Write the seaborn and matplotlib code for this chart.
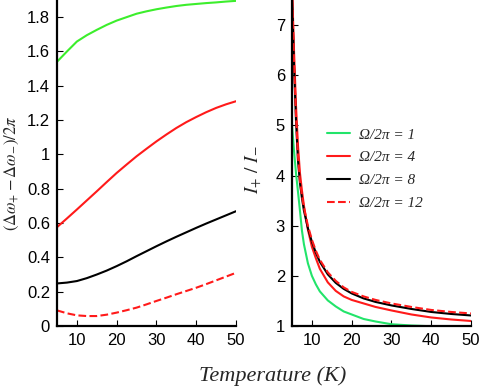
import numpy as np
import pandas as pd
import seaborn as sns
import matplotlib.pyplot as plt
from matplotlib.ticker import FuncFormatter

# left panel: splitting (Δω+ - Δω-)/2π vs temperature
temp_left = [5, 7.5, 10, 12.5, 15, 17.5, 20, 22.5, 25, 27.5, 30, 32.5, 35, 37.5, 40, 42.5, 45, 47.5, 50]
split_1 = [1.54, 1.60, 1.658, 1.695, 1.726, 1.755, 1.78, 1.80, 1.82, 1.834, 1.846, 1.856, 1.865, 1.872, 1.877, 1.882, 1.886, 1.891, 1.895]
split_4 = [0.576, 0.627, 0.679, 0.732, 0.785, 0.839, 0.892, 0.941, 0.989, 1.033, 1.076, 1.116, 1.154, 1.188, 1.218, 1.246, 1.271, 1.292, 1.31]
split_8 = [0.248, 0.253, 0.262, 0.279, 0.30, 0.323, 0.349, 0.377, 0.407, 0.436, 0.465, 0.493, 0.52, 0.546, 0.572, 0.597, 0.621, 0.645, 0.669]
split_12 = [0.091, 0.074, 0.062, 0.058, 0.058, 0.066, 0.078, 0.092, 0.107, 0.126, 0.146, 0.165, 0.185, 0.204, 0.223, 0.244, 0.266, 0.288, 0.31]

# right panel: intensity ratio I+/I- vs temperature
temp_right = [5, 5.5, 6, 6.5, 7, 7.5, 8, 9, 10, 11, 12, 14, 16, 18, 20, 23, 26, 30, 35, 40, 45, 50]
ratio_1 = [5.0, 4.5, 4.05, 3.68, 3.3, 2.9, 2.63, 2.25, 2.0, 1.83, 1.69, 1.51, 1.39, 1.29, 1.23, 1.14, 1.09, 1.035, 1.01, 0.995, 0.985, 0.975]
ratio_4 = [7.8, 6.5, 5.4, 4.6, 4.05, 3.7, 3.4, 2.92, 2.58, 2.35, 2.14, 1.87, 1.70, 1.59, 1.52, 1.45, 1.38, 1.31, 1.23, 1.17, 1.13, 1.10]
ratio_8 = [7.6, 6.2, 5.1, 4.3, 3.85, 3.55, 3.3, 2.95, 2.68, 2.46, 2.28, 2.03, 1.86, 1.74, 1.65, 1.55, 1.48, 1.41, 1.34, 1.28, 1.24, 1.21]
ratio_12 = [7.7, 6.3, 5.2, 4.4, 3.9, 3.6, 3.36, 3.0, 2.72, 2.5, 2.32, 2.07, 1.9, 1.77, 1.68, 1.59, 1.52, 1.45, 1.38, 1.32, 1.28, 1.25]

labels = ['Ω/2π = 1', 'Ω/2π = 4', 'Ω/2π = 8', 'Ω/2π = 12']
colors = ['#3cee2c', '#ff1a1a', '#000000', '#ff1a1a']
colors_right = ['#22e46a', '#ff1a1a', '#000000', '#ff1a1a']
styles = ['-', '-', '-', '--']

sns.set_style('ticks')
plt.rcParams['font.family'] = ['Liberation Sans', 'DejaVu Sans']
plt.rcParams['mathtext.fontset'] = 'stix'
plt.rcParams['xtick.direction'] = 'in'
plt.rcParams['ytick.direction'] = 'in'

fig = plt.figure(figsize=(4.84, 3.89), dpi=100)
ax1 = fig.add_axes([57 / 484, 63 / 389, 179 / 484, 326 / 389])
ax2 = fig.add_axes([292 / 484, 63 / 389, 179 / 484, 326 / 389])

for ys, lab, c, ls in zip([split_1, split_4, split_8, split_12], labels, colors, styles):
    df = pd.DataFrame({'T': temp_left, 'v': ys})
    sns.lineplot(data=df, x='T', y='v', ax=ax1, color=c, lw=1.5, linestyle=ls, label=lab, legend=False)

for ys, lab, c, ls in zip([ratio_1, ratio_4, ratio_8, ratio_12], labels, colors_right, styles):
    df = pd.DataFrame({'T': temp_right, 'v': ys})
    sns.lineplot(data=df, x='T', y='v', ax=ax2, color=c, lw=1.5, linestyle=ls, label=lab, legend=False)

serif = ['Liberation Serif', 'DejaVu Serif']
fmt = FuncFormatter(lambda v, p: '%g' % round(v, 2))

ax1.set_xlim(5, 50)
ax1.set_ylim(0, 1.9)
ax1.set_xticks([10, 20, 30, 40, 50])
ax1.set_yticks(np.arange(0, 1.81, 0.2))
ax1.yaxis.set_major_formatter(fmt)
ax1.set_xlabel('')
ax1.set_ylabel(r'$(\mathit{\Delta\omega}_{+} - \mathit{\Delta\omega}_{-})/2\pi$', fontsize=12)
ax1.yaxis.set_label_coords(-0.2, 0.47)

ax2.set_xlim(5, 50)
ax2.set_ylim(1, 7.5)
ax2.set_xticks([10, 20, 30, 40, 50])
ax2.set_yticks([1, 2, 3, 4, 5, 6, 7])
ax2.set_xlabel('')
ax2.set_ylabel(r'$I_{+}\ /\ I_{-}$', fontsize=14)
ax2.yaxis.set_label_coords(-0.15, 0.48)

for ax in (ax1, ax2):
    sns.despine(ax=ax)
    for s in ('left', 'bottom'):
        ax.spines[s].set_linewidth(1.6)
        ax.spines[s].set_color('black')
    ax.tick_params(labelsize=12, length=4, width=0.8, pad=5, colors='black')

leg = ax2.legend(loc='upper left', bbox_to_anchor=(0.12, 0.65), frameon=False,
                 prop={'family': serif, 'style': 'italic', 'size': 11},
                 handlelength=1.5, labelspacing=0.6, handletextpad=0.6)

fig.text(273 / 484, 0.033, 'Temperature (K)', ha='center', va='center',
         fontsize=16, style='italic', family=serif)

fig.savefig('out.png', dpi=100)
